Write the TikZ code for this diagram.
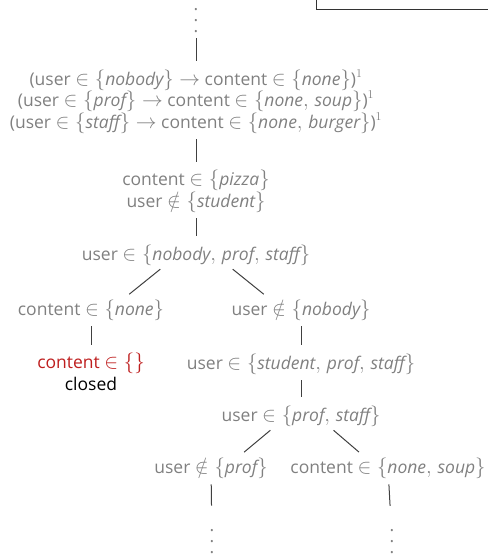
\documentclass[tikz,border=0pt]{standalone}
\usepackage{fontspec}
\setmainfont{Open Sans}
\DeclareMathSizes{17.5}{20}{13}{10}
\definecolor{stategray}{RGB}{128,128,128}
\definecolor{closedred}{RGB}{190,30,30}
\newcommand{\sv}[1]{\textit{#1}}
\newcommand{\tallvdots}{\vbox{\baselineskip11pt\lineskiplimit0pt\hbox{.}\hbox{.}\hbox{.}}}
\thinmuskip=5mu
\tikzset{
  state/.style={text=stategray, inner sep=0pt, anchor=base, align=center,
    font=\fontsize{17.5}{21.5}\selectfont},
  branch/.style={line width=1pt, draw=black!75, shorten <=6pt, shorten >=8pt},
}
\begin{document}
\begin{tikzpicture}[x=1pt, y=-1pt]
    \useasboundingbox (0,0) rectangle (488,554);
    % Frame corner at the top
    \draw[line width=1pt, draw=black!80] (316,0) |- (488,9);

    % Tree nodes
    \node[state] (dtop) at (196,32) {\tallvdots};
    \node[state] (rules) at (196,128) {(user $\in \{\sv{nobody}\} \rightarrow$ content $\in \{\sv{none}\}$)$^1$\\
        (user $\in \{\sv{prof}\} \rightarrow$ content $\in \{\sv{none}, \sv{soup}\}$)$^1$\\
        (user $\in \{\sv{staff}\} \rightarrow$ content $\in \{\sv{none}, \sv{burger}\}$)$^1$};
    \node[state] (pizza) at (196,207) {content $\in \{\sv{pizza}\}$\\ user $\notin \{\sv{student}\}$};
    \node[state] (users) at (196,260) {user $\in \{\sv{nobody}, \sv{prof}, \sv{staff}\}$};
    \node[state] (none) at (91,315) {content $\in \{\sv{none}\}$};
    \node[state] (notnobody) at (301,315) {user $\notin \{\sv{nobody}\}$};
    \node[state] (empty) at (91,390) {{\color{closedred}content $\in \{\}$}\\ {\color{black}closed}};
    \node[state] (spsusers) at (301,369) {user $\in \{\sv{student}, \sv{prof}, \sv{staff}\}$};
    \node[state] (psusers) at (301,421) {user $\in \{\sv{prof}, \sv{staff}\}$};
    \node[state] (notprof) at (211,473) {user $\notin \{\sv{prof}\}$};
    \node[state] (soup) at (388,473) {content $\in \{\sv{none}, \sv{soup}\}$};
    \node[state] (dleft) at (212,553) {\tallvdots};
    \node[state] (dright) at (392,553) {\tallvdots};

    % Branches
    \draw[branch] (dtop) -- (rules);
    \draw[branch] (rules) -- (pizza);
    \draw[branch] (pizza) -- (users);
    \draw[branch] ([xshift=-31pt]users.south) -- ([xshift=32pt]none.north);
    \draw[branch] ([xshift=32pt]users.south) -- ([xshift=-31pt]notnobody.north);
    \draw[branch] (none) -- (empty);
    \draw[branch] (notnobody) -- (spsusers);
    \draw[branch] (spsusers) -- (psusers);
    \draw[branch] ([xshift=-26pt]psusers.south) -- ([xshift=27pt]notprof.north);
    \draw[branch] ([xshift=28pt]psusers.south) -- ([xshift=-23pt]soup.north);
    \draw[branch, shorten >=23pt] (notprof) -- (dleft);
    \draw[branch, shorten >=23pt] (soup) -- (dright);
\end{tikzpicture}
\end{document}
